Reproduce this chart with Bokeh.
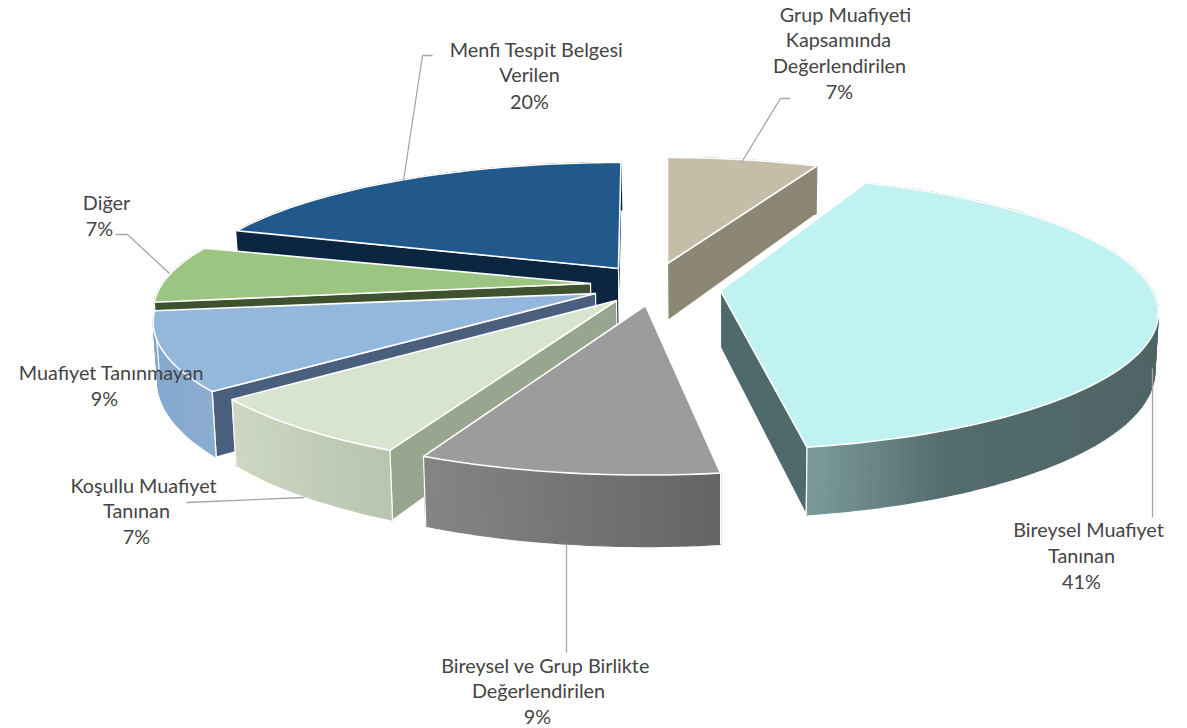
import math
from bokeh.plotting import figure
from bokeh.models import Range1d
from bokeh.core.properties import value
from bokeh.embed import file_html
from bokeh.resources import INLINE

# ---- data (clockwise from 12 o'clock) ----
names = ["Grup Muafiyeti Kapsamında Değerlendirilen", "Bireysel Muafiyet Tanınan",
         "Bireysel ve Grup Birlikte Değerlendirilen", "Koşullu Muafiyet Tanınan",
         "Muafiyet Tanınmayan", "Diğer", "Menfi Tespit Belgesi Verilen"]
shares = [7, 41, 9, 7, 9, 7, 20]

# ---- style per slice ----
top_colors = ["#c5bda8", "#c1f2f2", "#9c9c9c", "#d8e4cf", "#93b8dc", "#9dc582", "#215a8a"]
inner_colors = ["#8c8675", "#4f6a6a", "#7d7d7d", "#98a58f", "#4a5f7d", "#3f5230", "#0c2540"]
side_stops = [
    [(0, "#8c8675"), (1, "#8c8675")],
    [(0, "#7d9b9b"), (0.4, "#546c6c"), (1, "#4f6565")],
    [(0, "#858585"), (1, "#646464")],
    [(0, "#cdd7c3"), (1, "#b8c4ad")],
    [(0, "#86a8cf"), (1, "#8cadd0")],
    [(0, "#3f5230"), (1, "#3f5230")],
    [(0, "#0c2540"), (1, "#0c2540")],
]
# layout per slice: apex x, apex y, rotation deg, x scale, y scale, perspective
layout = [
    (667, 263, 0, 0.97, 1.0, 0.203),
    (720, 290, -2.5, 1.01, 1.05, 0.16),
    (645, 305, -0.7, 1.02, 1.06, 0.203),
    (616, 300, 0, 1.015, 1.06, 0.203),
    (595, 293, 0, 1.012, 1.05, 0.203),
    (590, 283, -1, 1.0, 1.0, 0.203),
    (618, 268, 0.4, 1.0, 1.0, 0.203),
]
draw_order = [6, 5, 4, 3, 0, 1, 2]
RX, RY, DEPTH, VX, BOTTOM_SCALE = 428, 127.5, 57, 720, 0.992

p = figure(width=1187, height=728, output_backend="svg", toolbar_location=None,
           x_range=Range1d(0, 1187), y_range=Range1d(728, 0), min_border=0,
           background_fill_color="white", border_fill_color="white", outline_line_color=None)
p.axis.visible = False
p.grid.visible = False


def hex2rgb(c):
    return tuple(int(c[i:i + 2], 16) for i in (1, 3, 5))


def lerp(stops, t):
    for (t0, c0), (t1, c1) in zip(stops, stops[1:]):
        if t <= t1:
            f = (t - t0) / (t1 - t0) if t1 > t0 else 0
            a, b = hex2rgb(c0), hex2rgb(c1)
            return "#%02x%02x%02x" % tuple(round(a[i] + (b[i] - a[i]) * f) for i in range(3))
    return stops[-1][1]


def rim(i, deg):
    ax, ay, rot, sx, sy, k = layout[i]
    t = math.radians(deg + rot)
    w = 1 + k * math.cos(t)
    return ax + sx * RX * math.sin(t) / w, ay - sy * RY * math.cos(t) / w, w


def bottom(x, y, w):
    return VX + (x - VX) * BOTTOM_SCALE, y + DEPTH / w


starts = [sum(shares[:k]) * 3.6 for k in range(len(shares))]

for i in draw_order:
    a0, a1 = starts[i], starts[i] + shares[i] * 3.6
    ax, ay = layout[i][0], layout[i][1]
    n = max(4, int((a1 - a0) / 1.2))
    degs = [a0 + (a1 - a0) * k / n for k in range(n + 1)]
    pts = [rim(i, d) for d in degs]
    apex_b = bottom(ax, ay, 1.0)
    mid = pts[n // 2]

    # inner faces: only those that turn towards the viewer
    for j in (0, -1):
        x, y, w = pts[j]
        ex, ey = x - ax, y - ay
        side_of_top = ex * (mid[1] - ay) - ey * (mid[0] - ax)
        side_of_down = ex * 1.0
        if side_of_top * side_of_down < 0:
            bx, by = bottom(x, y, w)
            p.patch([ax, x, bx, apex_b[0]], [ay, y, by, apex_b[1]], fill_color=inner_colors[i],
                    line_color="white", line_width=1.2)

    # outer rim wall, shaded by screen x
    vis = [pt for pt in pts if pt[2] <= 1.06] or pts
    xmin = min(pt[0] for pt in vis)
    xmax = max(pt[0] for pt in vis)
    for (x0, y0, w0), (x1, y1, w1) in zip(pts, pts[1:]):
        b0, b1 = bottom(x0, y0, w0), bottom(x1, y1, w1)
        t = min(1, max(0, ((x0 + x1) / 2 - xmin) / max(1, xmax - xmin)))
        c = lerp(side_stops[i], t)
        p.patch([x0, x1, b1[0], b0[0]], [y0, y1, b1[1], b0[1]], fill_color=c, line_color=c, line_width=1.2)

    # white verticals at the rim ends that face the front
    for j, d in ((0, a0), (-1, a1)):
        if math.cos(math.radians(d)) < 0:
            x, y, w = pts[j]
            bx, by = bottom(x, y, w)
            p.line([x, bx], [y, by], line_color="white", line_width=1.2)

    # top face
    p.patch([ax] + [pt[0] for pt in pts], [ay] + [pt[1] for pt in pts],
            fill_color=top_colors[i], line_color="white", line_width=1.6, line_join="round")

# ---- leader lines ----
leaders = [
    ([403, 422, 432], [180, 55, 55]),
    ([741, 780, 790], [162, 98, 98]),
    ([169, 127, 115], [273, 234, 234]),
    ([1152, 1152], [368, 517]),
    ([566, 566], [543, 652]),
    ([304, 186], [497, 502]),
]
for xs, ys in leaders:
    p.line(xs, ys, line_color="#a6a6a6", line_width=1.3)

# ---- labels ----
pct = {n: f"{s}%" for n, s in zip(names, shares)}
label_lines = [
    ("Grup Muafiyeti", 845, 13), ("Kapsamında", 838, 38), ("Değerlendirilen", 839, 64), (pct[names[0]], 839, 90),
    ("Menfi Tespit Belgesi", 536, 48), ("Verilen", 529, 73), (pct[names[6]], 529, 100),
    ("Diğer", 106, 201), (pct[names[5]], 99, 227),
    ("Muafiyet Tanınmayan", 111, 371), (pct[names[4]], 104, 397),
    ("Koşullu Muafiyet", 143, 484), ("Tanınan", 136, 509), (pct[names[3]], 136, 535),
    ("Bireysel Muafiyet", 1088, 528), ("Tanınan", 1081, 554), (pct[names[1]], 1081, 580),
    ("Bireysel ve Grup Birlikte", 545, 664), ("Değerlendirilen", 538, 689), (pct[names[2]], 537, 715),
]
p.text([l[1] for l in label_lines], [l[2] for l in label_lines], text=[l[0] for l in label_lines],
       text_font=value("Lato"), text_font_size="19.8px", text_color="#444444",
       text_align="center", text_baseline="middle")

open("out.html", "w").write(file_html(p, INLINE))
